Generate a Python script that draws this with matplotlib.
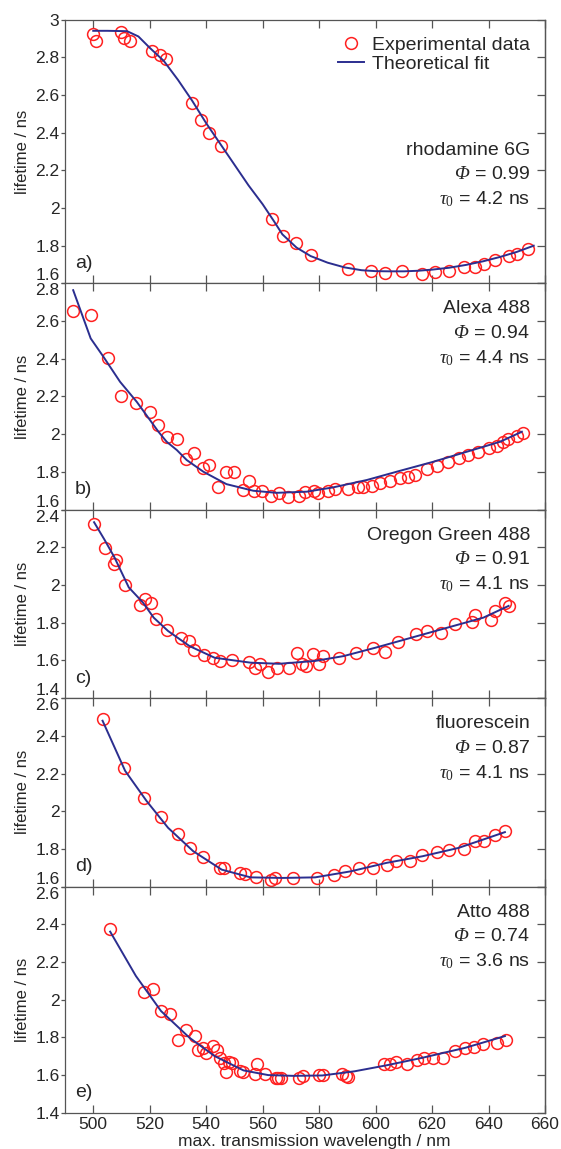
import matplotlib
matplotlib.use('Agg')
import matplotlib.pyplot as plt
import numpy as np

plt.rcParams['font.family'] = ['Liberation Sans', 'DejaVu Sans']
# serif italic for Phi and tau, upright serif for the subscript 0
plt.rcParams['mathtext.fontset'] = 'custom'
plt.rcParams['mathtext.rm'] = 'Liberation Serif:italic'
plt.rcParams['mathtext.it'] = 'Liberation Serif:italic'
plt.rcParams['mathtext.sf'] = 'Liberation Serif'

# ---- data ----
# a) rhodamine 6G
wl_a = [500.0, 500.9, 510.0, 510.9, 512.9, 520.8, 523.7, 525.8, 535.0, 538.1, 541.1, 545.2,
        563.3, 567.1, 571.9, 577.0, 590.2, 598.2, 603.3, 609.2, 616.3, 621.0, 626.1, 631.3,
        635.2, 638.4, 642.4, 647.1, 650.2, 654.0]
tau_a = [2.924, 2.888, 2.933, 2.901, 2.888, 2.835, 2.812, 2.788, 2.558, 2.467, 2.396, 2.331,
         1.942, 1.853, 1.812, 1.752, 1.676, 1.667, 1.653, 1.664, 1.650, 1.658, 1.667, 1.685,
         1.688, 1.703, 1.724, 1.747, 1.756, 1.782]
fit_wl_a = [500, 505, 512, 516, 520, 525, 530, 535, 540, 545, 550, 555, 560, 564, 567, 572,
            577, 583, 589, 595, 600, 605, 610, 615, 620, 626, 632, 638, 644, 650, 656]
fit_a = [2.94, 2.94, 2.938, 2.91, 2.85, 2.78, 2.68, 2.57, 2.45, 2.34, 2.23, 2.12, 2.02, 1.93,
         1.86, 1.79, 1.745, 1.71, 1.685, 1.67, 1.665, 1.664, 1.664, 1.667, 1.673, 1.683, 1.698,
         1.717, 1.740, 1.767, 1.800]

# b) Alexa 488
wl_b = [492.9, 499.1, 505.3, 509.9, 515.2, 520.1, 522.8, 526.0, 529.8, 532.9, 535.8, 539.0,
        541.1, 544.3, 546.9, 550.0, 553.2, 555.2, 557.1, 559.9, 562.9, 565.9, 569.0, 572.8,
        575.0, 578.2, 579.7, 583.3, 585.6, 590.4, 593.9, 595.7, 598.6, 601.6, 605.1, 608.7,
        611.6, 614.0, 618.1, 621.7, 625.8, 629.7, 632.9, 636.4, 640.3, 643.1, 645.0, 647.0,
        650.0, 652.1]
tau_b = [2.655, 2.633, 2.402, 2.204, 2.167, 2.116, 2.049, 1.986, 1.972, 1.866, 1.898, 1.822,
         1.835, 1.721, 1.801, 1.797, 1.703, 1.751, 1.698, 1.698, 1.672, 1.686, 1.668, 1.673,
         1.694, 1.700, 1.686, 1.700, 1.707, 1.707, 1.718, 1.721, 1.726, 1.742, 1.751, 1.765,
         1.774, 1.783, 1.813, 1.831, 1.854, 1.872, 1.889, 1.907, 1.925, 1.938, 1.956, 1.972,
         1.990, 2.004]
fit_wl_b = [492.9, 499.1, 503.6, 509.5, 515.4, 520.1, 523.1, 526.0, 529.6, 533.1, 539.0,
            547.2, 556.7, 564.9, 575.6, 585.0, 596.9, 608.7, 620.5, 632.3, 644.1, 651.8]
fit_b = [2.764, 2.508, 2.411, 2.278, 2.172, 2.075, 2.013, 1.960, 1.916, 1.863, 1.801,
         1.735, 1.700, 1.689, 1.695, 1.718, 1.757, 1.806, 1.854, 1.907, 1.960, 2.013]

# c) Oregon Green 488
wl_c = [500.3, 504.1, 507.2, 508.1, 511.2, 516.4, 518.3, 520.3, 522.2, 526.0, 531.0, 533.9,
        535.8, 539.2, 542.4, 544.9, 549.0, 555.3, 557.2, 559.1, 561.8, 565.0, 569.2, 572.0,
        573.9, 575.4, 578.0, 579.8, 581.5, 587.2, 593.1, 599.2, 603.3, 607.8, 614.4, 618.1,
        623.1, 628.3, 634.1, 635.3, 641.0, 642.3, 645.9, 647.1]
tau_c = [2.321, 2.195, 2.111, 2.134, 1.999, 1.893, 1.928, 1.902, 1.818, 1.760, 1.721, 1.703,
         1.653, 1.629, 1.614, 1.597, 1.600, 1.591, 1.561, 1.579, 1.540, 1.558, 1.561, 1.639,
         1.579, 1.570, 1.632, 1.582, 1.623, 1.614, 1.641, 1.668, 1.645, 1.700, 1.742, 1.756,
         1.744, 1.795, 1.806, 1.840, 1.813, 1.863, 1.907, 1.886]
fit_wl_c = [500.3, 504.0, 507.5, 512.6, 517.6, 521.4, 526.5, 534.1, 543.0, 555.7, 565.8,
            578.5, 588.7, 600.1, 612.8, 625.5, 638.2, 647.1]
fit_c = [2.333, 2.24, 2.147, 1.987, 1.907, 1.827, 1.756, 1.676, 1.614, 1.588, 1.582,
         1.597, 1.623, 1.668, 1.721, 1.774, 1.827, 1.889]

# d) fluorescein
wl_d = [503.3, 511.0, 518.1, 524.1, 529.9, 534.1, 538.9, 544.9, 546.2, 551.9, 553.9, 557.7,
        562.9, 564.3, 570.9, 579.2, 585.1, 589.1, 594.0, 599.1, 603.9, 607.1, 612.3, 616.4,
        621.9, 626.1, 631.2, 635.2, 638.3, 642.4, 646.0]
tau_d = [2.489, 2.228, 2.068, 1.969, 1.880, 1.805, 1.756, 1.699, 1.699, 1.672, 1.667, 1.649,
         1.637, 1.646, 1.646, 1.646, 1.663, 1.685, 1.699, 1.699, 1.717, 1.734, 1.738, 1.766,
         1.782, 1.793, 1.800, 1.844, 1.844, 1.873, 1.894]
fit_wl_d = [503.3, 511.3, 518.9, 526.5, 535.4, 545.5, 555.7, 567.1, 578.6, 591.2, 603.9,
            616.6, 629.3, 638.2, 645.8]
fit_d = [2.480, 2.214, 2.054, 1.912, 1.788, 1.690, 1.649, 1.646, 1.649, 1.681, 1.726,
         1.761, 1.805, 1.850, 1.889]

# e) Atto 488
wl_e = [506.0, 518.0, 521.1, 524.1, 527.3, 530.1, 533.0, 536.0, 537.0, 538.9, 539.8, 542.3,
        544.0, 544.9, 546.2, 547.0, 548.1, 549.0, 551.9, 553.2, 557.2, 557.9, 561.0, 564.6,
        565.6, 566.6, 572.9, 574.2, 580.1, 581.3, 588.0, 589.4, 590.3, 602.9, 605.2, 607.1,
        611.2, 614.7, 617.3, 620.4, 624.0, 628.3, 631.8, 635.0, 638.2, 643.0, 646.3]
tau_e = [2.373, 2.042, 2.055, 1.940, 1.922, 1.784, 1.837, 1.809, 1.731, 1.745, 1.719, 1.754,
         1.731, 1.692, 1.665, 1.616, 1.671, 1.665, 1.621, 1.618, 1.607, 1.657, 1.607, 1.586,
         1.582, 1.586, 1.586, 1.595, 1.603, 1.603, 1.607, 1.595, 1.589, 1.657, 1.657, 1.669,
         1.660, 1.680, 1.692, 1.692, 1.692, 1.727, 1.745, 1.750, 1.763, 1.772, 1.786]
fit_wl_e = [506.0, 515.1, 524.0, 534.1, 543.0, 553.2, 562.0, 570.9, 581.1, 592.5, 603.9,
            616.6, 631.8, 645.8]
fit_e = [2.361, 2.126, 1.940, 1.798, 1.701, 1.625, 1.600, 1.596, 1.598, 1.620, 1.652,
         1.692, 1.745, 1.807]

dyes = ['rhodamine 6G', 'Alexa 488', 'Oregon Green 488', 'fluorescein', 'Atto 488']
phis = ['0.99', '0.94', '0.91', '0.87', '0.74']
taus = ['4.2', '4.4', '4.1', '4.1', '3.6']
letters = ['a)', 'b)', 'c)', 'd)', 'e)']
ylims = [(1.6, 3.0), (1.6, 2.8), (1.4, 2.4), (1.6, 2.6), (1.4, 2.6)]

exp_wl = [wl_a, wl_b, wl_c, wl_d, wl_e]
exp_tau = [tau_a, tau_b, tau_c, tau_d, tau_e]
fits_wl = [fit_wl_a, fit_wl_b, fit_wl_c, fit_wl_d, fit_wl_e]
fits = [fit_a, fit_b, fit_c, fit_d, fit_e]

# ---- layout in pixels ----
W, H = 561, 1149
x0, x1 = 65, 545
edges = [19.5, 283.4, 509.6, 698.1, 886.6, 1112.8]

red = '#ff2020'
blue = '#2b2e8f'
grey = '#555555'
txt = '#262626'

fig = plt.figure(figsize=(W / 100, H / 100), dpi=100)

for i in range(5):
    top, bot = edges[i], edges[i + 1]
    ax = fig.add_axes([x0 / W, 1 - bot / H, (x1 - x0) / W, (bot - top) / H])
    ax.plot(exp_wl[i], exp_tau[i], 'o', mfc='none', mec=red, mew=1.1, ms=8.5,
            label='Experimental data', zorder=2)
    ax.plot(fits_wl[i], fits[i], '-', color=blue, lw=1.4, label='Theoretical fit', zorder=3)

    ax.set_xlim(490, 660)
    ax.set_ylim(*ylims[i])
    yt = np.round(np.arange(ylims[i][0], ylims[i][1] + 0.01, 0.2), 1)
    ax.set_yticks(yt)
    ax.set_yticklabels(['%g' % v for v in yt])
    ax.set_xticks(np.arange(500, 661, 20))

    for s in ax.spines.values():
        s.set_color(grey)
        s.set_linewidth(0.9)
    ax.tick_params(axis='x', direction='in', top=True, bottom=True, length=6, width=0.9,
                   color=grey, labelsize=12.5, labelcolor=txt, pad=3,
                   labelbottom=(i == 4))
    ax.tick_params(axis='y', direction='out', left=True, right=False, length=3, width=0.9,
                   color=grey, labelsize=12.5, labelcolor=txt, pad=1)
    sec = ax.secondary_yaxis('right')
    sec.set_yticks(yt)
    sec.tick_params(direction='in', length=6, width=0.9, color=grey, labelright=False)
    sec.spines['right'].set_color(grey)
    sec.spines['right'].set_linewidth(0.9)

    labs = ax.get_yticklabels()
    if i > 0:
        labs[-1].set_va('top')
    if i < 4:
        labs[0].set_va('bottom')

    ax.set_ylabel('lifetime / ns', fontsize=12, color=txt, va='center')
    ax.yaxis.set_label_coords((23 - x0) / (x1 - x0), 0.5)

    # panel letter
    ax.annotate(letters[i], xy=(0, 0), xycoords='axes fraction', xytext=(10, 20),
                textcoords='offset pixels', ha='left', va='center', fontsize=14, color=txt)

    # dye info
    first = 128.8 if i == 0 else 23.5
    lines = [dyes[i], r'$\Phi$ = ' + phis[i], r'$\tau_{\mathsf{0}}$ = ' + taus[i] + ' ns']
    for k, s in enumerate(lines):
        ax.annotate(s, xy=(1, 1), xycoords='axes fraction',
                    xytext=(-15, -(first + 24.5 * k)), textcoords='offset pixels',
                    ha='right', va='center_baseline', fontsize=14, color=txt)

    if i == 0:
        ax.legend(loc='upper right', bbox_to_anchor=((530 - x0) / (x1 - x0), 0.9375),
                  frameon=False, fontsize=14, borderpad=0, borderaxespad=0,
                  handlelength=1.35, handletextpad=0.4, labelspacing=0.1, numpoints=1,
                  labelcolor=txt)
    if i == 4:
        ax.set_xlabel('max. transmission wavelength / nm', fontsize=12.5, color=txt,
                      va='center')
        ax.xaxis.set_label_coords(0.519, (bot - 1141.7) / (bot - top))

fig.savefig('out.png', dpi=100, facecolor='white')
